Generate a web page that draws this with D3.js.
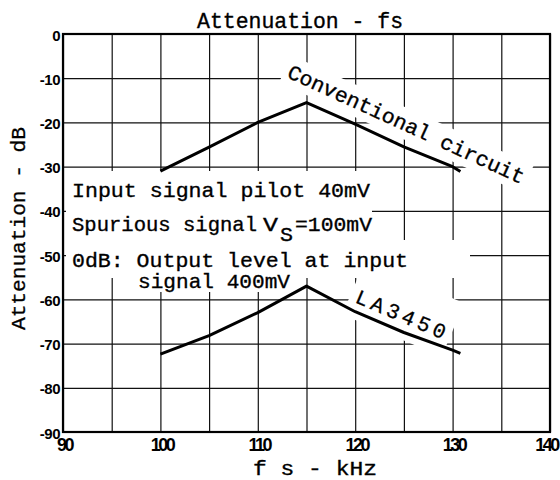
<!DOCTYPE html>
<html><head><meta charset="utf-8">
<script src="https://cdn.jsdelivr.net/npm/d3@7"></script>
<style>body{margin:0;background:#fff}</style>
</head><body><svg id="c" width="560" height="480"></svg>
<script>
// ---- data ----
const xTicks = [90, 100, 110, 120, 130, 140];
const xGrid = [90, 95, 100, 105, 110, 115, 120, 125, 130, 135, 140];
const yTicks = [0, -10, -20, -30, -40, -50, -60, -70, -80, -90];
const conventionalF = [100, 105, 110, 115, 120, 125, 130, 130.8];
const conventionalDB = [-31, -25.6, -20, -15.5, -20.4, -25.5, -30, -31.1];
const la3450F = [100, 105, 110, 115, 120, 125, 130, 130.8];
const la3450DB = [-72.4, -68.2, -63, -57, -62.8, -67.5, -71.5, -72.2];
const titleText = "Attenuation - fs";
const xTitle = "f s - kHz";
const yTitle = "Attenuation - dB";
const labelConv = "Conventional circuit";
const labelLA = "LA3450";
const note1 = "Input signal pilot 40mV";
const note2a = "Spurious signal", note2V = "V", note2S = "S", note2b = "=100mV";
const note3 = "0dB: Output level at input";
const note4 = "signal 400mV";

// ---- setup ----
const svg = d3.select("#c");
const L = 63, R = 550, T = 34, B = 432;
const x = d3.scaleLinear().domain([90, 140]).range([L, R]);
const y = d3.scaleLinear().domain([0, -90]).range([T, B]);
const mono = "'Liberation Mono','DejaVu Sans Mono',monospace";
const sans = "'Liberation Sans','Arial',sans-serif";

svg.append("rect").attr("width", 560).attr("height", 480).attr("fill", "#fff");

// grid
const grid = svg.append("g");
grid.append("g").attr("transform", `translate(0,${B})`)
  .call(d3.axisBottom(x).tickValues(xGrid).tickSize(-(B - T)).tickFormat(""))
  .call(s => s.select(".domain").remove())
  .call(s => s.selectAll("line").attr("stroke", "#111").attr("stroke-width", 1.2));
grid.append("g").attr("transform", `translate(${L},0)`)
  .call(d3.axisLeft(y).tickValues(yTicks).tickSize(-(R - L)).tickFormat(""))
  .call(s => s.select(".domain").remove())
  .call(s => s.selectAll("line").attr("stroke", "#111").attr("stroke-width", 1.2));

// white masks behind annotations
const masks = svg.append("g").attr("fill", "#fff");
masks.append("rect").attr("x", 66).attr("y", 171).attr("width", 306).attr("height", 69);
masks.append("rect").attr("x", 66).attr("y", 240).attr("width", 404).attr("height", 38);
masks.append("rect").attr("x", 120).attr("y", 278).attr("width", 180).attr("height", 14);
masks.append("rect").attr("transform", "translate(286,77) rotate(24.5)")
  .attr("x", -4).attr("y", -22).attr("width", 266).attr("height", 30);
masks.append("rect").attr("transform", "translate(354,302) rotate(23)")
  .attr("x", -6).attr("y", -42).attr("width", 108).attr("height", 58);

// frame
svg.append("rect").attr("x", L).attr("y", T).attr("width", R - L).attr("height", B - T)
  .attr("fill", "none").attr("stroke", "#000").attr("stroke-width", 2.2);

// curves
const line = d3.line().x(d => x(d[0])).y(d => y(d[1]));
svg.append("path").datum(conventionalF.map((f, i) => [f, conventionalDB[i]]))
  .attr("d", line).attr("fill", "none").attr("stroke", "#000").attr("stroke-width", 3)
  .attr("stroke-linejoin", "round");
svg.append("path").datum(la3450F.map((f, i) => [f, la3450DB[i]]))
  .attr("d", line).attr("fill", "none").attr("stroke", "#000").attr("stroke-width", 3)
  .attr("stroke-linejoin", "round");

// tick labels
const xa = svg.append("g").attr("transform", `translate(0,${B})`)
  .call(d3.axisBottom(x).tickValues(xTicks).tickSize(0).tickPadding(6).tickFormat(d => String(d)));
xa.select(".domain").remove();
xa.selectAll("text").attr("font-family", sans).attr("font-weight", "bold")
  .attr("font-size", 18).attr("letter-spacing", "-2.5px").attr("fill", "#000")
  .attr("dx", (d, i) => i === xTicks.length - 1 ? -4 : 1);

const ya = svg.append("g").attr("transform", `translate(${L},0)`)
  .call(d3.axisLeft(y).tickValues(yTicks).tickSize(0).tickPadding(3)
    .tickFormat(d => d === 0 ? "0" : "-" + Math.abs(d)));
ya.select(".domain").remove();
ya.selectAll("text").attr("font-family", sans).attr("font-weight", "bold")
  .attr("font-size", 15).attr("letter-spacing", "-0.5px").attr("fill", "#000")
  .attr("dy", "0.4em");

// texts
function txt(s, px, py, len, size) {
  return svg.append("text").attr("x", px).attr("y", py).text(s)
    .attr("font-family", mono).attr("font-size", size).attr("fill", "#000")
    .attr("stroke", "#000").attr("stroke-width", 0.35)
    .attr("textLength", len).attr("lengthAdjust", "spacingAndGlyphs");
}
txt(titleText, 197, 28, 206, 22);
txt(note1, 72, 197, 298, 21);
txt(note2a, 72, 231, 185, 21);
txt(note2V, 263, 231, 15, 21);
txt(note2S, 280, 241, 13, 21);
txt(note2b, 295, 231, 77, 21);
txt(note3, 72, 267, 336, 21);
txt(note4, 138, 288, 152, 21);
txt(xTitle, 253, 475, 124, 20);

svg.append("text").attr("transform", "translate(25,330) rotate(-90)").text(yTitle)
  .attr("font-family", mono).attr("font-size", 21).attr("fill", "#000")
  .attr("stroke", "#000").attr("stroke-width", 0.3)
  .attr("textLength", 203).attr("lengthAdjust", "spacingAndGlyphs");

svg.append("text").attr("transform", "translate(286,77) rotate(24.5)").text(labelConv)
  .attr("font-family", mono).attr("font-size", 21).attr("fill", "#000")
  .attr("stroke", "#000").attr("stroke-width", 0.35)
  .attr("textLength", 258).attr("lengthAdjust", "spacingAndGlyphs");
svg.append("text").attr("transform", "translate(354,302) rotate(23)").text(labelLA)
  .attr("font-family", mono).attr("font-size", 21).attr("fill", "#000")
  .attr("stroke", "#000").attr("stroke-width", 0.3)
  .attr("textLength", 96).attr("lengthAdjust", "spacing");
</script></body></html>
